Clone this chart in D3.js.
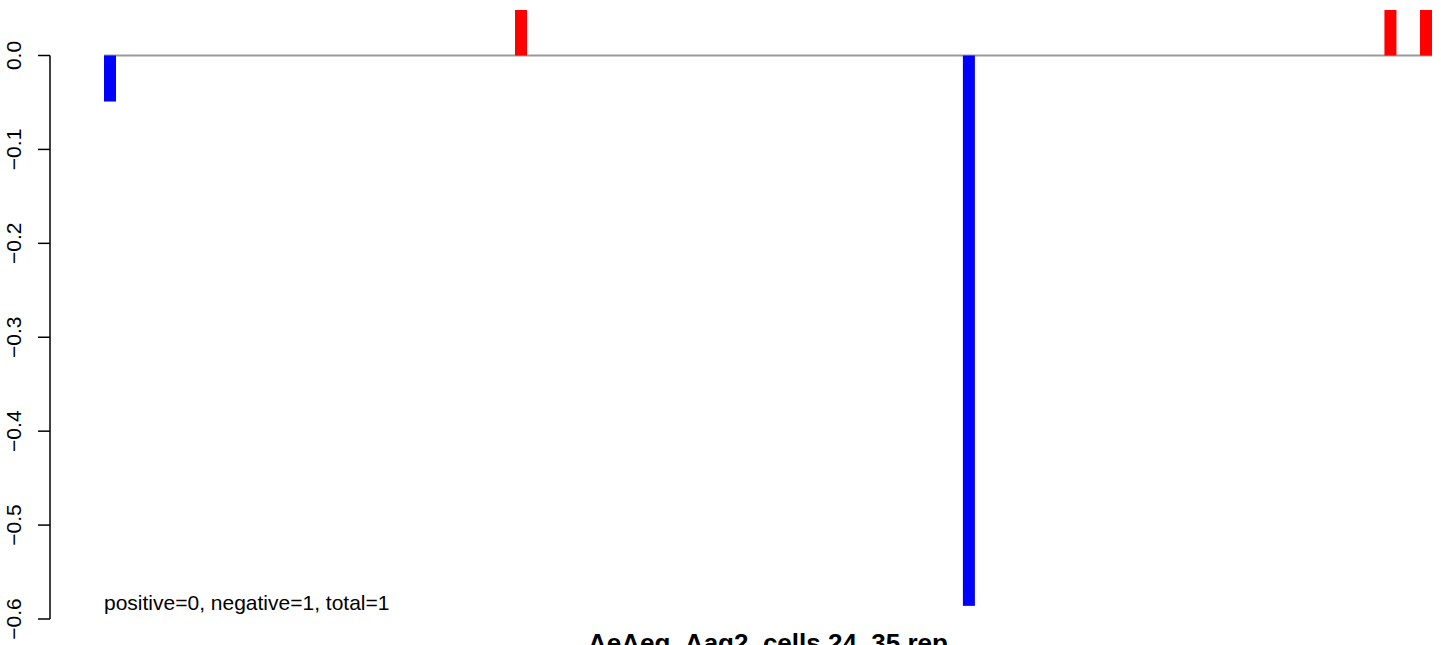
<!DOCTYPE html>
<html>
<head>
<meta charset="utf-8">
<script src="https://cdn.jsdelivr.net/npm/d3@7"></script>
<style>
  html, body { margin: 0; padding: 0; background: #fff; }
  svg { display: block; }
  text { font-family: "Liberation Sans", Arial, Helvetica, sans-serif; }
</style>
</head>
<body>
<svg id="chart" width="1441" height="645"></svg>
<script>
// ---- data ----
const positions = [1, 313, 653, 973, 1000];
const values = [-0.049, 0.05, -0.586, 0.05, 0.05];
const yTicks = [0, -0.1, -0.2, -0.3, -0.4, -0.5, -0.6];
const titleText = "AeAeg_Aag2_cells 24_35 rep";
const noteText = "positive=0, negative=1, total=1";

// ---- layout ----
const svg = d3.select("#chart");
const W = 1441, H = 645;
const plotTop = 10;
const x = d3.scaleLinear().domain([1, 1000]).range([110, 1426]);
const y = d3.scaleLinear().domain([-0.6, 0]).range([619, 55.5]);
const barW = 12;

svg.append("defs").append("clipPath").attr("id", "plotclip")
  .append("rect").attr("x", 0).attr("y", plotTop).attr("width", W).attr("height", H - plotTop);

const g = svg.append("g").attr("clip-path", "url(#plotclip)");

// zero line
g.append("line")
  .attr("x1", x(positions[0]) - barW / 2)
  .attr("x2", x(positions[positions.length - 1]) + barW / 2)
  .attr("y1", y(0)).attr("y2", y(0))
  .attr("stroke", "#999999").attr("stroke-width", 2);

// bars
g.selectAll("rect.bar").data(positions.map((p, i) => ({p, v: values[i]})))
  .enter().append("rect")
  .attr("class", "bar")
  .attr("x", d => x(d.p) - barW / 2)
  .attr("width", barW)
  .attr("y", d => Math.min(y(d.v), y(0)))
  .attr("height", d => Math.abs(y(d.v) - y(0)))
  .attr("fill", d => d.v < 0 ? "#0000ff" : "#ff0000");

// y axis
const axisX = 50;
const ax = svg.append("g");
ax.append("line")
  .attr("x1", axisX).attr("x2", axisX)
  .attr("y1", y(d3.max(yTicks))).attr("y2", y(d3.min(yTicks)))
  .attr("stroke", "#000").attr("stroke-width", 1.5);
const tk = ax.selectAll("g.tick").data(yTicks).enter().append("g").attr("class", "tick");
tk.append("line")
  .attr("x1", axisX - 12).attr("x2", axisX)
  .attr("y1", d => y(d)).attr("y2", d => y(d))
  .attr("stroke", "#000").attr("stroke-width", 1.5);
tk.append("text")
  .attr("transform", d => `translate(20.5,${y(d)}) rotate(-90)`)
  .attr("text-anchor", "middle")
  .attr("font-size", 21)
  .attr("fill", "#000")
  .text(d => d3.format(".1f")(d).replace("-", "\u2212"));

// annotation
svg.append("text")
  .attr("x", 104).attr("y", 609.5)
  .attr("font-size", 21)
  .attr("fill", "#000")
  .text(noteText);

// title
svg.append("text")
  .attr("x", 768).attr("y", 651.5)
  .attr("text-anchor", "middle")
  .attr("font-size", 26)
  .attr("font-weight", "bold")
  .attr("fill", "#000")
  .text(titleText);
</script>
</body>
</html>
